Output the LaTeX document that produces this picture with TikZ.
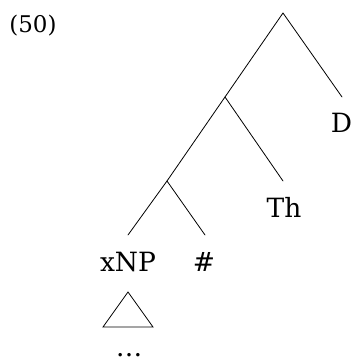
\documentclass[tikz,border=0pt]{standalone}
\usepackage{fontspec}
\setmainfont{DejaVu Serif}
\begin{document}
\begin{tikzpicture}[x=1pt,y=-1pt,
  branch/.style={line width=0.8pt, line cap=round},
  lbl/.style={inner sep=0pt, font=\fontsize{26.5}{30}\selectfont},
  numlbl/.style={inner sep=0pt, font=\fontsize{23}{26}\selectfont}]
\useasboundingbox (0,0) rectangle (352,364);
\node[numlbl] (num) at (33,26) {(50)};
\coordinate (root) at (283,13);
\coordinate (n1) at (225,97);
\coordinate (n2) at (167,181);
\coordinate (dend) at (342,97);
\coordinate (thend) at (283,181);
\coordinate (xend) at (128,235);
\coordinate (hend) at (205,235);
\draw[branch] (root) -- (n1);
\draw[branch] (root) -- (dend);
\draw[branch] (n1) -- (n2);
\draw[branch] (n1) -- (thend);
\draw[branch] (n2) -- (xend);
\draw[branch] (n2) -- (hend);
\node[lbl] (D) at (341.5,123) {D};
\node[lbl] (Th) at (284,207) {Th};
\node[lbl] (xNP) at (128,262) {xNP};
\node[lbl] (hash) at (204,262) {\#};
\coordinate (tapex) at (128,292);
\coordinate (tl) at (103,327);
\coordinate (tr) at (153,327);
\draw[branch, line join=miter] (tapex) -- (tl) -- (tr) -- cycle;
\node[lbl] (dots) at (129,355) {\dots};
\end{tikzpicture}
\end{document}
